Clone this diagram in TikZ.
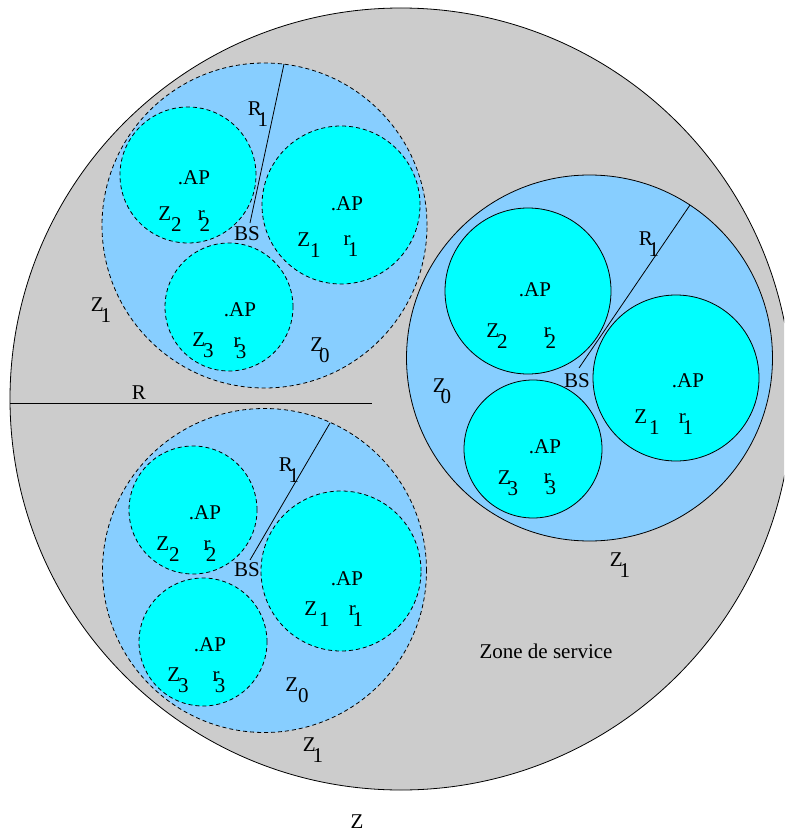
\documentclass[tikz,border=0pt]{standalone}
\usepackage{fontspec}
\setmainfont{Liberation Serif}
\definecolor{zonegray}{RGB}{204,204,204}
\definecolor{ltblue}{RGB}{135,206,255}
\definecolor{apcyan}{RGB}{0,255,255}
\newcommand{\lsub}[3][0em]{#2\kern#1\raisebox{-0.5em}{#3}}
\tikzset{
  zonefill/.style={draw=black, line width=0.8pt, fill=zonegray},
  cellsolid/.style={draw=black, line width=0.8pt, fill=ltblue},
  celldash/.style={draw=black, line width=0.8pt, fill=ltblue, dash pattern=on 4pt off 3pt},
  apsolid/.style={draw=black, line width=0.8pt, fill=apcyan},
  apdash/.style={draw=black, line width=0.8pt, fill=apcyan, dash pattern=on 4pt off 3pt},
  radline/.style={draw=black, line width=0.8pt},
  lbl/.style={inner sep=0pt, font=\fontsize{21}{25}\selectfont}
}
\begin{document}
\begin{tikzpicture}[x=1pt,y=-1pt]
\useasboundingbox (0,0) rectangle (784,834);
\clip (0,0) rectangle (784,834);
% service zone
\path[zonefill] (401,399) circle[radius=391pt];
% ---------- top-left group (dashed) ----------
\path[celldash] (264.5,225.5) circle[radius=162.5pt];
\path[apdash] (188,175) circle[radius=68pt];
\path[apdash] (341,205) circle[radius=79pt];
\path[apdash] (229,307) circle[radius=64pt];
\coordinate (bsA) at (250,223);
\coordinate (edgeA) at (284,64);
\draw[radline] (bsA) -- (edgeA);
\node[lbl] (apA2) at (194,178) {.AP};
\node[lbl] (zA2) at (170,219) {\lsub{Z}{2}};
\node[lbl] (rA2) at (204,221) {\lsub[-0.25em]{r}{2}};
\node[lbl] (apA1) at (347,204) {.AP};
\node[lbl] (zA1) at (309,245) {\lsub{Z}{1}};
\node[lbl] (rA1) at (351,246) {\lsub[-0.12em]{r}{1}};
\node[lbl] (apA3) at (240,310) {.AP};
\node[lbl] (zA3) at (203,345) {\lsub[-0.1em]{Z}{3}};
\node[lbl] (rA3) at (240,348) {\lsub[-0.22em]{r}{3}};
\node[lbl] (bsLA) at (247,234) {BS};
\node[lbl] (r1A) at (258,114) {\lsub[-0.2em]{R}{1}};
\node[lbl] (z0A) at (320,350) {\lsub[-0.2em]{Z}{0}};
\node[lbl] (z1A) at (101,310) {\lsub[-0.15em]{Z}{1}};
% radius R
\coordinate (rL) at (10,403);
\coordinate (rR) at (372,403);
\draw[radline] (rL) -- (rR);
\node[lbl] (Rlbl) at (139,393) {R};
% ---------- right group (solid) ----------
\path[cellsolid] (589.5,358) circle[radius=183pt];
\path[apsolid] (528,291) circle[radius=83pt];
\path[apsolid] (676,378) circle[radius=83pt];
\path[apsolid] (533,449) circle[radius=69pt];
\coordinate (bsB) at (579,368);
\coordinate (edgeB) at (690,205);
\draw[radline] (bsB) -- (edgeB);
\node[lbl] (apB2) at (535,290) {.AP};
\node[lbl] (zB2) at (497,336) {\lsub[-0.1em]{Z}{2}};
\node[lbl] (rB2) at (550,338) {\lsub[-0.25em]{r}{2}};
\node[lbl] (apB1) at (688,381) {.AP};
\node[lbl] (zB1) at (647,422) {\lsub[0.1em]{Z}{1}};
\node[lbl] (rB1) at (686,424) {\lsub[-0.15em]{r}{1}};
\node[lbl] (apB3) at (545,447) {.AP};
\node[lbl] (zB3) at (508,483) {\lsub[-0.15em]{Z}{3}};
\node[lbl] (rB3) at (550,484) {\lsub[-0.25em]{r}{3}};
\node[lbl] (bsLB) at (577,381) {BS};
\node[lbl] (r1B) at (649,244) {\lsub[-0.2em]{R}{1}};
\node[lbl] (z0B) at (442,391) {\lsub[-0.25em]{Z}{0}};
\node[lbl] (z1B) at (620,565) {\lsub[-0.15em]{Z}{1}};
% ---------- bottom-left group (dashed) ----------
\path[celldash] (264.5,570.5) circle[radius=162pt];
\path[apdash] (193,510) circle[radius=64pt];
\path[apdash] (341,571) circle[radius=80pt];
\path[apdash] (203,642) circle[radius=64pt];
\coordinate (bsC) at (250,560);
\coordinate (edgeC) at (330,423);
\draw[radline] (bsC) -- (edgeC);
\node[lbl] (apC2) at (205,513) {.AP};
\node[lbl] (zC2) at (168,549) {\lsub{Z}{2}};
\node[lbl] (rC2) at (210,551) {\lsub[-0.22em]{r}{2}};
\node[lbl] (apC1) at (347,579) {.AP};
\node[lbl] (zC1) at (317,614) {\lsub[0.1em]{Z}{1}};
\node[lbl] (rC1) at (356,616) {\lsub[-0.15em]{r}{1}};
\node[lbl] (apC3) at (210,645) {.AP};
\node[lbl] (zC3) at (178,680) {\lsub[-0.1em]{Z}{3}};
\node[lbl] (rC3) at (219,682) {\lsub[-0.22em]{r}{3}};
\node[lbl] (bsLC) at (247,570) {BS};
\node[lbl] (r1C) at (289,470) {\lsub[-0.2em]{R}{1}};
\node[lbl] (z0C) at (297,690) {\lsub{Z}{0}};
\node[lbl] (z1C) at (313,750) {\lsub[-0.15em]{Z}{1}};
% ---------- other labels ----------
\node[lbl] (zone) at (546,651) {Zone de service};
\node[lbl] (zbig) at (357,822) {Z};
\end{tikzpicture}
\end{document}
